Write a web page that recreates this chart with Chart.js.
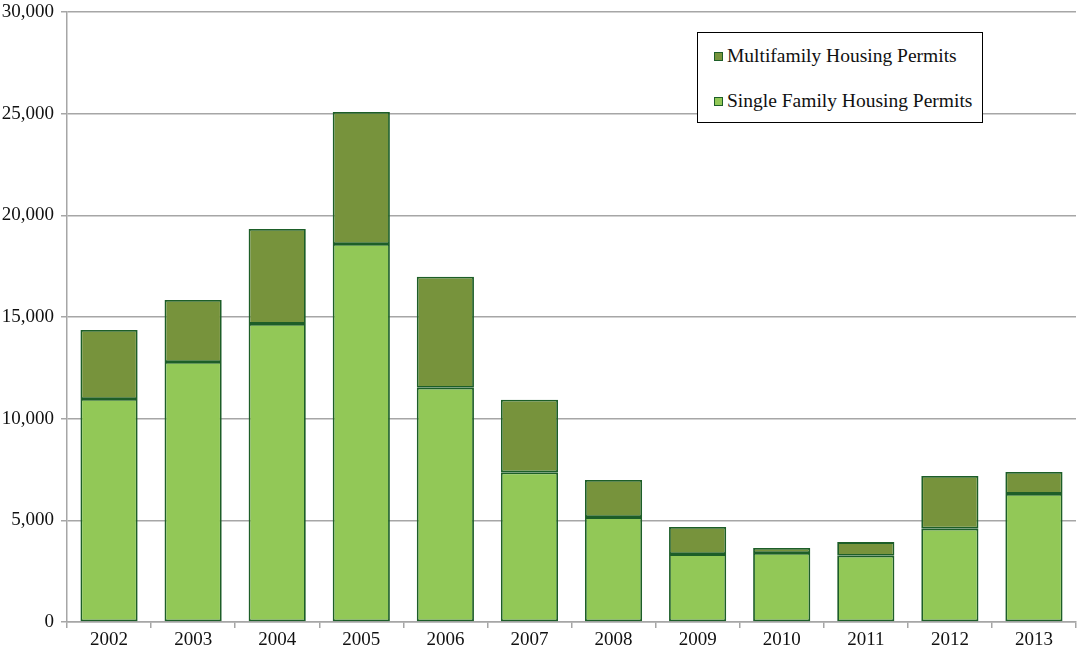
<!DOCTYPE html>
<html>
<head>
<meta charset="utf-8">
<script src="https://cdn.jsdelivr.net/npm/chart.js@4.4.0/dist/chart.umd.min.js"></script>
<style>
  html, body { margin: 0; padding: 0; background: #fff; }
  #wrap { position: relative; width: 1079px; height: 656px; }
  #legend {
    position: absolute; left: 697px; top: 32px; width: 284px; height: 89px;
    border: 1px solid #000; background: #fff;
    font-family: "Liberation Serif", "Times New Roman", serif; font-size: 19.5px; color: #111;
  }
  #legend .item { position: absolute; left: 16px; display: flex; align-items: center; line-height: 22px; }
  #legend .sw { width: 7px; height: 7px; border: 1.5px solid #1d5e28; margin-right: 4px; }
</style>
</head>
<body>
<div id="wrap">
  <canvas id="chart1" width="1079" height="656"></canvas>
  <div id="legend"></div>
</div>
<script>
const years = ['2002','2003','2004','2005','2006','2007','2008','2009','2010','2011','2012','2013'];
const singleFamily = [10970, 12790, 14660, 18590, 11520, 7360, 5160, 3340, 3390, 3260, 4590, 6300];
const multiFamily  = [3390, 3050, 4670, 6490, 5460, 3570, 1820, 1330, 250, 670, 2590, 1080];

const GRID = '#a6a6a6';
const EDGE = '#1d5e28';

const datasets = [
    { label: 'Single Family Housing Permits', data: singleFamily, backgroundColor: '#92c857' },
    { label: 'Multifamily Housing Permits', data: multiFamily, backgroundColor: '#77933c' }
].map(d => Object.assign(d, {
    borderColor: EDGE, borderWidth: 1.8, borderSkipped: false, inflateAmount: 0,
    categoryPercentage: 1, barPercentage: 0.68
}));

const font = { family: '"Liberation Serif", "Times New Roman", serif', size: 19 };

new Chart(document.getElementById('chart1'), {
    type: 'bar',
    data: { labels: years, datasets: datasets },
    options: {
        responsive: false,
        animation: false,
        layout: { padding: { top: 12, right: 3, left: 0, bottom: 0 } },
        plugins: { legend: { display: false }, tooltip: { enabled: false } },
        scales: {
            x: {
                stacked: true,
                grid: { drawOnChartArea: false, drawTicks: true, tickLength: 6, color: GRID, lineWidth: 1.5 },
                border: { color: GRID, width: 1.5 },
                ticks: { color: '#111', font: font, padding: 1 },
                afterFit: s => { s.height = 34; s.paddingLeft = 0; s.paddingRight = 0; }
            },
            y: {
                stacked: true,
                min: 0, max: 30000,
                grid: { color: GRID, lineWidth: 1.5, tickLength: 6 },
                border: { color: GRID, width: 1.5 },
                ticks: {
                    stepSize: 5000, color: '#111', font: font, padding: 7,
                    callback: v => v.toLocaleString('en-US')
                },
                // keep the plot area where the original has it
                afterFit: s => { s.width = 67; s.paddingTop = 0; s.paddingBottom = 0; }
            }
        }
    }
});

// legend box (multifamily listed first, as in the original)
const legend = document.getElementById('legend');
[datasets[1], datasets[0]].forEach((d, i) => {
    const row = document.createElement('div');
    row.className = 'item';
    row.style.top = (i === 0 ? 12 : 57) + 'px';
    row.innerHTML = '<span class="sw" style="background:' + d.backgroundColor + '"></span><span>' + d.label + '</span>';
    legend.appendChild(row);
});
</script>
</body>
</html>
